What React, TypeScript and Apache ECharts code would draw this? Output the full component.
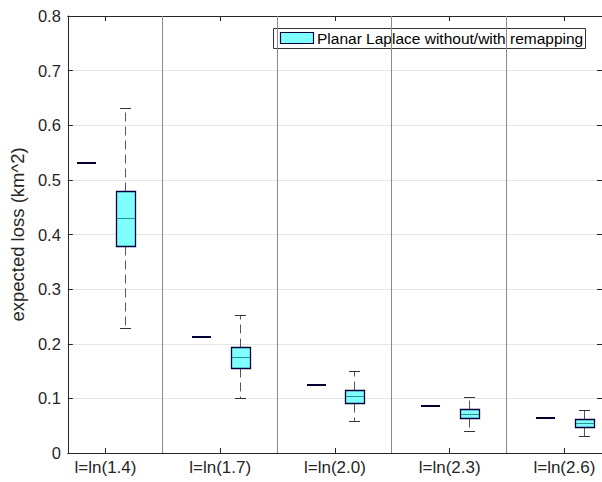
import React, { useEffect, useRef } from "react";
import * as echarts from "echarts";

const categories = ["l=ln(1.4)", "l=ln(1.7)", "l=ln(2.0)", "l=ln(2.3)", "l=ln(2.6)"];
const groupPositions = [1, 2, 3, 4, 5];
const separators = [1.5, 2.5, 3.5, 4.5];

// Planar Laplace without remapping (constant values -> collapsed boxes)
const withoutRemap = [0.53, 0.213, 0.1245, 0.086, 0.0647];

// Planar Laplace with remapping
const withLow = [0.228, 0.1, 0.0586, 0.0397, 0.0306];
const withQ1 = [0.379, 0.155, 0.091, 0.0635, 0.0476];
const withMedian = [0.43, 0.175, 0.1037, 0.072, 0.0549];
const withQ3 = [0.48, 0.1946, 0.1153, 0.08, 0.0617];
const withHigh = [0.631, 0.2526, 0.1495, 0.103, 0.078];

const legendText = "Planar Laplace without/with remapping";
const yAxisName = "expected loss (km^2)";

const FONT = "'Liberation Sans', Arial, Helvetica, sans-serif";
const AXIS_COLOR = "#262626";
const BOX_OFFSET = 0.1685;
const BOX_WIDTH = 0.173;

function renderBox(params: any, api: any) {
  const x = api.value(0);
  const low = api.value(1);
  const q1 = api.value(2);
  const med = api.value(3);
  const q3 = api.value(4);
  const high = api.value(5);
  const w = api.size([BOX_WIDTH, 0])[0];
  const c = api.coord([x, med]);
  const cx = Math.round(c[0]) + 0.5;
  const left = Math.round(cx - w / 2);
  const right = Math.round(cx + w / 2);
  const yOf = (v: number) => Math.round(api.coord([x, v])[1]) + 0.5;
  const children: any[] = [];
  if (Math.abs(q3 - q1) < 1e-9) {
    children.push({
      type: "line",
      shape: { x1: left, y1: yOf(med) - 0.5, x2: right, y2: yOf(med) - 0.5 },
      style: { stroke: "#000033", lineWidth: 2 },
    });
    return { type: "group", children };
  }
  const capHalf = w * 0.28;
  children.push({
    type: "line",
    shape: { x1: cx, y1: yOf(q3), x2: cx, y2: yOf(high) },
    style: { stroke: "#555555", lineWidth: 1, lineDash: [9, 5] },
  });
  children.push({
    type: "line",
    shape: { x1: cx, y1: yOf(q1), x2: cx, y2: yOf(low) },
    style: { stroke: "#555555", lineWidth: 1, lineDash: [9, 5] },
  });
  children.push({
    type: "line",
    shape: { x1: Math.round(cx - capHalf), y1: yOf(high), x2: Math.round(cx + capHalf), y2: yOf(high) },
    style: { stroke: "#333333", lineWidth: 1 },
  });
  children.push({
    type: "line",
    shape: { x1: Math.round(cx - capHalf), y1: yOf(low), x2: Math.round(cx + capHalf), y2: yOf(low) },
    style: { stroke: "#333333", lineWidth: 1 },
  });
  const top = yOf(q3);
  const bottom = yOf(q1);
  children.push({
    type: "rect",
    shape: { x: left + 0.5, y: top, width: right - left, height: bottom - top },
    style: { fill: "#80ffff", stroke: "#00003a", lineWidth: 1.3 },
  });
  children.push({
    type: "line",
    shape: { x1: left + 1, y1: yOf(med), x2: right, y2: yOf(med) },
    style: { stroke: "#2a8f8f", lineWidth: 1 },
  });
  return { type: "group", children };
}

function renderSeparator(params: any, api: any) {
  const x = api.value(0);
  const p0 = api.coord([x, 0]);
  const p1 = api.coord([x, 0.8]);
  const px = Math.round(p0[0]) - 0.5;
  return {
    type: "line",
    shape: { x1: px, y1: p0[1], x2: px, y2: p1[1] },
    style: { stroke: "#8a8a8a", lineWidth: 1 },
  };
}

export default function App() {
  const ref = useRef<HTMLDivElement>(null);
  useEffect(() => {
    if (!ref.current) return;
    const chart = echarts.init(ref.current, null, { renderer: "svg" });

    const withoutData = groupPositions.map((p, i) => [
      p - BOX_OFFSET,
      withoutRemap[i],
      withoutRemap[i],
      withoutRemap[i],
      withoutRemap[i],
      withoutRemap[i],
    ]);
    const withData = groupPositions.map((p, i) => [
      p + BOX_OFFSET,
      withLow[i],
      withQ1[i],
      withMedian[i],
      withQ3[i],
      withHigh[i],
    ]);

    const xMin = 0.672;
    const xMax = 5.328;

    chart.setOption({
      animation: false,
      backgroundColor: "#ffffff",
      textStyle: { fontFamily: FONT },
      grid: { left: 64, top: 16, right: -1, bottom: 29, containLabel: false },
      xAxis: [
        {
          type: "value",
          min: xMin,
          max: xMax,
          position: "bottom",
          axisLine: { show: true, onZero: false, lineStyle: { color: AXIS_COLOR, width: 1 } },
          axisTick: {
            show: true,
            inside: true,
            length: 5,
            customValues: groupPositions,
            lineStyle: { color: AXIS_COLOR },
          },
          axisLabel: {
            show: true,
            customValues: groupPositions,
            margin: 6,
            color: AXIS_COLOR,
            fontSize: 17,
            fontFamily: FONT,
            formatter: (v: number) => categories[Math.round(v) - 1] ?? "",
          },
          splitLine: { show: false },
        },
        {
          type: "value",
          min: xMin,
          max: xMax,
          position: "top",
          axisLine: { show: true, onZero: false, lineStyle: { color: AXIS_COLOR, width: 1 } },
          axisTick: {
            show: true,
            inside: true,
            length: 5,
            customValues: groupPositions,
            lineStyle: { color: AXIS_COLOR },
          },
          axisLabel: { show: false },
          splitLine: { show: false },
        },
      ],
      yAxis: [
        {
          type: "value",
          min: 0,
          max: 0.8,
          interval: 0.1,
          position: "left",
          name: yAxisName,
          nameLocation: "middle",
          nameRotate: 90,
          nameGap: 33,
          nameTextStyle: { fontSize: 18.5, color: AXIS_COLOR, fontFamily: FONT },
          axisLine: { show: true, onZero: false, lineStyle: { color: AXIS_COLOR, width: 1 } },
          axisTick: { show: true, inside: true, length: 5, lineStyle: { color: AXIS_COLOR } },
          axisLabel: {
            color: AXIS_COLOR,
            fontSize: 16.5,
            fontFamily: FONT,
            margin: 7,
            formatter: (v: number) => String(Math.round(v * 10) / 10),
          },
          splitLine: { show: true, lineStyle: { color: "#e6e6e6", width: 1 } },
        },
        {
          type: "value",
          min: 0,
          max: 0.8,
          interval: 0.1,
          position: "right",
          axisLine: { show: true, onZero: false, lineStyle: { color: AXIS_COLOR, width: 1 } },
          axisTick: { show: true, inside: true, length: 5, lineStyle: { color: AXIS_COLOR } },
          axisLabel: { show: false },
          splitLine: { show: false },
        },
      ],
      series: [
        {
          type: "custom",
          name: "separators",
          xAxisIndex: 0,
          yAxisIndex: 0,
          silent: true,
          renderItem: renderSeparator,
          data: separators.map((s) => [s, 0]),
          encode: { x: 0, y: 1 },
          z: 1,
        },
        {
          type: "custom",
          name: "Planar Laplace without remapping",
          xAxisIndex: 0,
          yAxisIndex: 0,
          renderItem: renderBox,
          data: withoutData,
          encode: { x: 0, y: [1, 2, 3, 4, 5] },
          z: 3,
        },
        {
          type: "custom",
          name: "Planar Laplace with remapping",
          xAxisIndex: 0,
          yAxisIndex: 0,
          renderItem: renderBox,
          data: withData,
          encode: { x: 0, y: [1, 2, 3, 4, 5] },
          z: 3,
        },
      ],
      graphic: [
        {
          type: "group",
          left: 273,
          top: 28,
          z: 100,
          children: [
            {
              type: "rect",
              shape: { x: 0.5, y: 0.5, width: 312, height: 20 },
              style: { fill: "#ffffff", stroke: "#333333", lineWidth: 1 },
            },
            {
              type: "rect",
              shape: { x: 7.5, y: 4.5, width: 33, height: 11 },
              style: { fill: "#80ffff", stroke: "#00003a", lineWidth: 1.2 },
            },
            {
              type: "text",
              x: 44,
              y: 10.5,
              style: {
                text: legendText,
                fill: "#000000",
                fontSize: 15.5,
                fontFamily: FONT,
                verticalAlign: "middle",
                align: "left",
              },
            },
          ],
        },
      ],
    });
    return () => chart.dispose();
  }, []);
  return (
    <div
      ref={ref}
      style={{ position: "fixed", left: 0, top: 0, width: 602, height: 482, background: "#fff" }}
    />
  );
}
